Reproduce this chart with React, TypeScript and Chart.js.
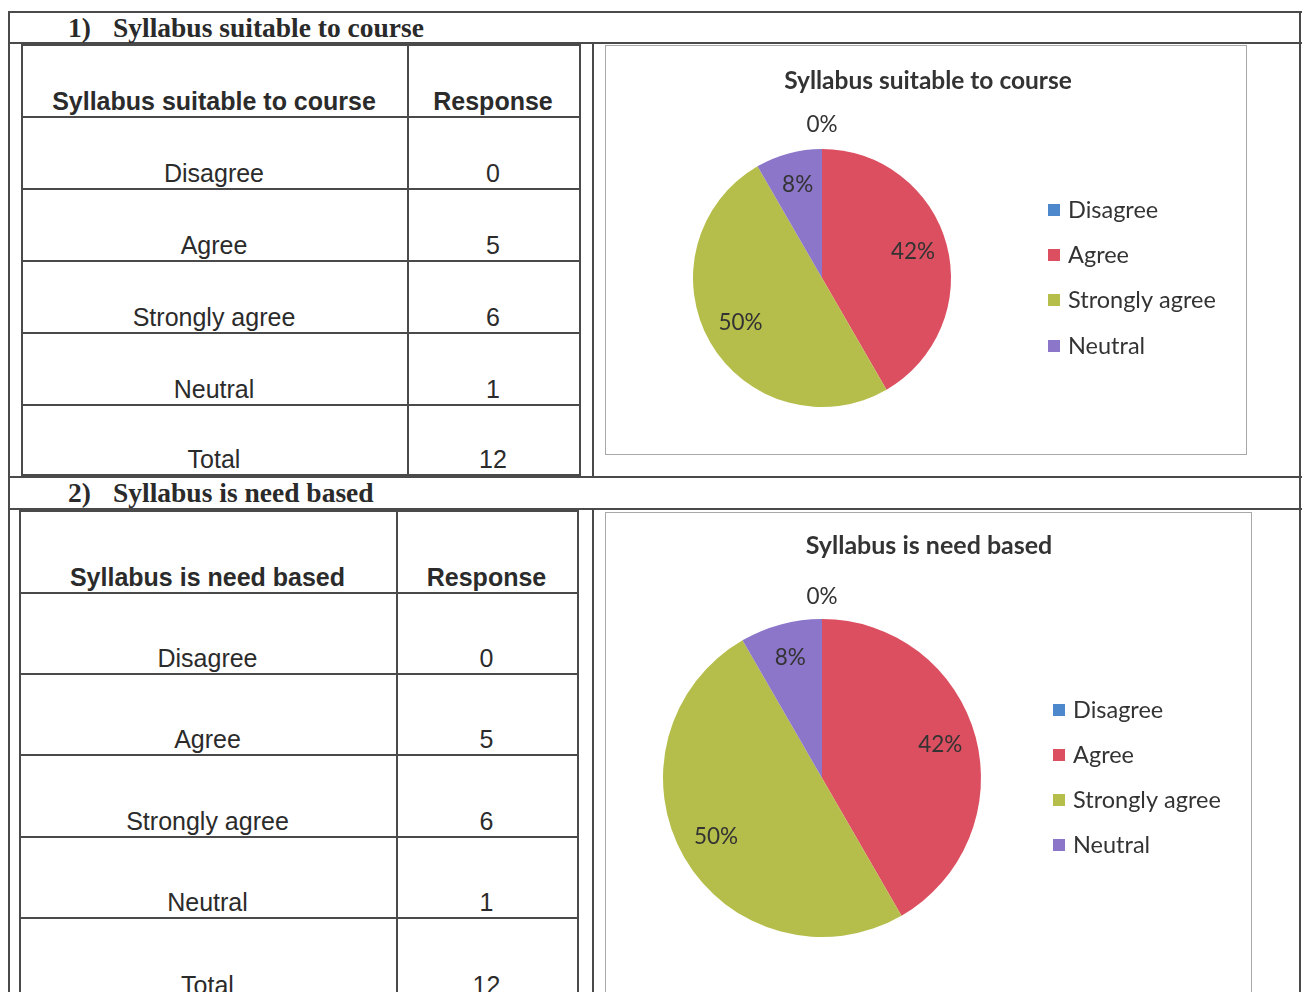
import React, { useEffect, useRef } from "react";
import { Chart, registerables } from "chart.js";
Chart.register(...registerables);

// ---------- data ----------
const categories = ["Disagree", "Agree", "Strongly agree", "Neutral"];
const suitableValues = [0, 5, 6, 1];
const needBasedValues = [0, 5, 6, 1];
const sliceColors = ["#4d88cc", "#dc4f61", "#b6be4b", "#8b76c9"];
const section1Title = "Syllabus suitable to course";
const section2Title = "Syllabus is need based";
const responseHeader = "Response";
const totalLabel = "Total";

const LINE = "#4a4a4a";
const TEXT = "#2b2b2b";

type OverlayCfg = {
  title: string;
  titleX: number;
  titleY: number;
  titleSize: number;
  labelSize: number;
  inside: number;
  outside: number;
  labelDy: number;
  legendX: number;
  legendYs: number[];
  legendSize: number;
};

const makeOverlay = (cfg: OverlayCfg) => ({
  id: "overlay",
  afterDraw(chart: any) {
    const ctx = chart.ctx as CanvasRenderingContext2D;
    const ds = chart.data.datasets[0];
    const vals = ds.data as number[];
    const colors = ds.backgroundColor as string[];
    const labels = chart.data.labels as string[];
    const total = vals.reduce((a, b) => a + b, 0);
    const meta = chart.getDatasetMeta(0);
    ctx.save();
    ctx.fillStyle = "#333";
    ctx.textAlign = "center";
    ctx.textBaseline = "middle";
    ctx.font = `bold ${cfg.titleSize}px Lato`;
    ctx.fillText(cfg.title, cfg.titleX, cfg.titleY);
    ctx.font = `${cfg.labelSize}px Lato`;
    meta.data.forEach((arc: any, i: number) => {
      const p = arc.getProps(["x", "y", "startAngle", "endAngle", "outerRadius"], true);
      const mid = (p.startAngle + p.endAngle) / 2;
      const r = vals[i] === 0 ? p.outerRadius + cfg.outside : p.outerRadius * cfg.inside;
      ctx.fillText(
        Math.round((vals[i] / total) * 100) + "%",
        p.x + Math.cos(mid) * r,
        p.y + Math.sin(mid) * r + cfg.labelDy
      );
    });
    ctx.textAlign = "left";
    ctx.font = `${cfg.legendSize}px Lato`;
    labels.forEach((lab, i) => {
      const y = cfg.legendYs[i];
      ctx.fillStyle = colors[i];
      ctx.fillRect(cfg.legendX, y - 6, 12, 12);
      ctx.fillStyle = "#333";
      ctx.fillText(lab, cfg.legendX + 20, y);
    });
    ctx.restore();
  },
});

function PieBox(props: {
  left: number;
  top: number;
  width: number;
  height: number;
  values: number[];
  padding: { left: number; top: number; right: number; bottom: number };
  overlay: OverlayCfg;
}) {
  const ref = useRef<HTMLCanvasElement | null>(null);
  useEffect(() => {
    let chart: Chart | null = null;
    let cancelled = false;
    const make = () => {
      if (cancelled || !ref.current) return;
      chart = new Chart(ref.current, {
        type: "pie",
        data: {
          labels: categories,
          datasets: [
            {
              data: props.values,
              backgroundColor: sliceColors,
              borderWidth: 0,
            },
          ],
        },
        options: {
          responsive: false,
          animation: false,
          layout: { padding: props.padding },
          plugins: {
            legend: { display: false },
            title: { display: false },
            tooltip: { enabled: false },
          },
        },
        plugins: [makeOverlay(props.overlay)],
      });
    };
    const fonts = (document as any).fonts;
    if (fonts && fonts.load) {
      Promise.all([fonts.load("20px Lato"), fonts.load("bold 20px Lato")])
        .catch(() => null)
        .then(make);
    } else make();
    return () => {
      cancelled = true;
      if (chart) chart.destroy();
    };
  }, []);
  const iw = props.width - 2;
  const ih = props.height - 2;
  return (
    <div
      style={{
        position: "absolute",
        left: props.left,
        top: props.top,
        width: props.width,
        height: props.height,
        border: "1px solid #a8a8a8",
        boxSizing: "border-box",
        background: "#fff",
      }}
    >
      <canvas ref={ref} width={iw} height={ih} style={{ display: "block", width: iw, height: ih }} />
    </div>
  );
}

function HLine(p: { x: number; y: number; w: number; t?: number; c?: string }) {
  return (
    <div
      style={{
        position: "absolute",
        left: p.x,
        top: p.y,
        width: p.w,
        height: p.t ?? 2,
        background: p.c ?? LINE,
      }}
    />
  );
}
function VLine(p: { x: number; y: number; h: number; t?: number; c?: string }) {
  return (
    <div
      style={{
        position: "absolute",
        left: p.x,
        top: p.y,
        width: p.t ?? 2,
        height: p.h,
        background: p.c ?? LINE,
      }}
    />
  );
}

function DataTable(p: {
  left: number;
  colSplit: number;
  right: number;
  rowLines: number[]; // top .. bottom
  header: string;
  values: number[];
}) {
  const rows: { a: string; b: string; bold: boolean }[] = [
    { a: p.header, b: responseHeader, bold: true },
    ...categories.map((c, i) => ({ a: c, b: String(p.values[i]), bold: false })),
    { a: totalLabel, b: String(p.values.reduce((s, v) => s + v, 0)), bold: false },
  ];
  const top = p.rowLines[0];
  const bottom = p.rowLines[p.rowLines.length - 1];
  const els: React.ReactNode[] = [];
  els.push(<VLine key="l" x={p.left} y={top} h={bottom - top} />);
  els.push(<VLine key="m" x={p.colSplit} y={top} h={bottom - top} />);
  els.push(<VLine key="r" x={p.right} y={top} h={bottom - top} />);
  p.rowLines.forEach((y, i) => {
    if (i === p.rowLines.length - 1 && bottom > 992) return;
    els.push(<HLine key={"h" + i} x={p.left} y={y} w={p.right - p.left + 2} />);
  });
  rows.forEach((r, i) => {
    const rb = p.rowLines[i + 1];
    const cellStyle = (x0: number, x1: number): React.CSSProperties => ({
      position: "absolute",
      left: x0,
      width: x1 - x0,
      top: rb - 29,
      height: 28,
      lineHeight: "28px",
      textAlign: "center",
      fontFamily: "'Liberation Sans', Arial, sans-serif",
      fontSize: 25,
      fontWeight: r.bold ? 700 : 400,
      color: TEXT,
      whiteSpace: "nowrap",
    });
    els.push(
      <div key={"a" + i} style={cellStyle(p.left, p.colSplit)}>
        {r.a}
      </div>
    );
    els.push(
      <div key={"b" + i} style={cellStyle(p.colSplit, p.right)}>
        {r.b}
      </div>
    );
  });
  return <>{els}</>;
}

function SectionHeader(p: { num: string; text: string; cy: number }) {
  const st: React.CSSProperties = {
    position: "absolute",
    top: p.cy - 16,
    height: 32,
    lineHeight: "32px",
    fontFamily: "'Liberation Serif', 'Times New Roman', serif",
    fontWeight: 700,
    fontSize: 27.5,
    color: "#2a2a2a",
    whiteSpace: "nowrap",
  };
  return (
    <>
      <div style={{ ...st, left: 68 }}>{p.num}</div>
      <div style={{ ...st, left: 113 }}>{p.text}</div>
    </>
  );
}

export default function App() {
  return (
    <div
      style={{
        position: "absolute",
        left: 0,
        top: 0,
        width: 1302,
        height: 992,
        overflow: "hidden",
        background: "#fff",
      }}
    >
      {/* outer frame */}
      <HLine x={8} y={11} w={1294} />
      <HLine x={8} y={42} w={1294} />
      <HLine x={8} y={476} w={1294} />
      <HLine x={8} y={508} w={1294} />
      <VLine x={8} y={11} h={981} />
      <VLine x={1299} y={11} h={981} />
      <VLine x={592} y={42} h={436} />
      <VLine x={592} y={508} h={484} />

      <SectionHeader num="1)" text={section1Title} cy={28} />
      <SectionHeader num="2)" text={section2Title} cy={493} />

      <DataTable
        left={21}
        colSplit={407}
        right={579}
        rowLines={[44, 116, 188, 260, 332, 404, 474]}
        header={section1Title}
        values={suitableValues}
      />
      <DataTable
        left={19}
        colSplit={396}
        right={577}
        rowLines={[510, 592, 673, 754, 836, 917, 1000]}
        header={section2Title}
        values={needBasedValues}
      />

      <PieBox
        left={605}
        top={45}
        width={642}
        height={410}
        values={suitableValues}
        padding={{ left: 87, top: 103, right: 295, bottom: 47 }}
        overlay={{
          title: section1Title,
          titleX: 322,
          titleY: 35,
          titleSize: 24.5,
          labelSize: 22.5,
          inside: 0.73,
          outside: 22,
          labelDy: -2,
          legendX: 442,
          legendYs: [164, 209, 254, 300],
          legendSize: 23.5,
        }}
      />
      <PieBox
        left={605}
        top={512}
        width={647}
        height={490}
        values={needBasedValues}
        padding={{ left: 57, top: 106, right: 270, bottom: 64 }}
        overlay={{
          title: section2Title,
          titleX: 323,
          titleY: 33,
          titleSize: 25,
          labelSize: 22.5,
          inside: 0.77,
          outside: 20,
          labelDy: -2,
          legendX: 447,
          legendYs: [197, 242, 287, 332],
          legendSize: 23.5,
        }}
      />
    </div>
  );
}
